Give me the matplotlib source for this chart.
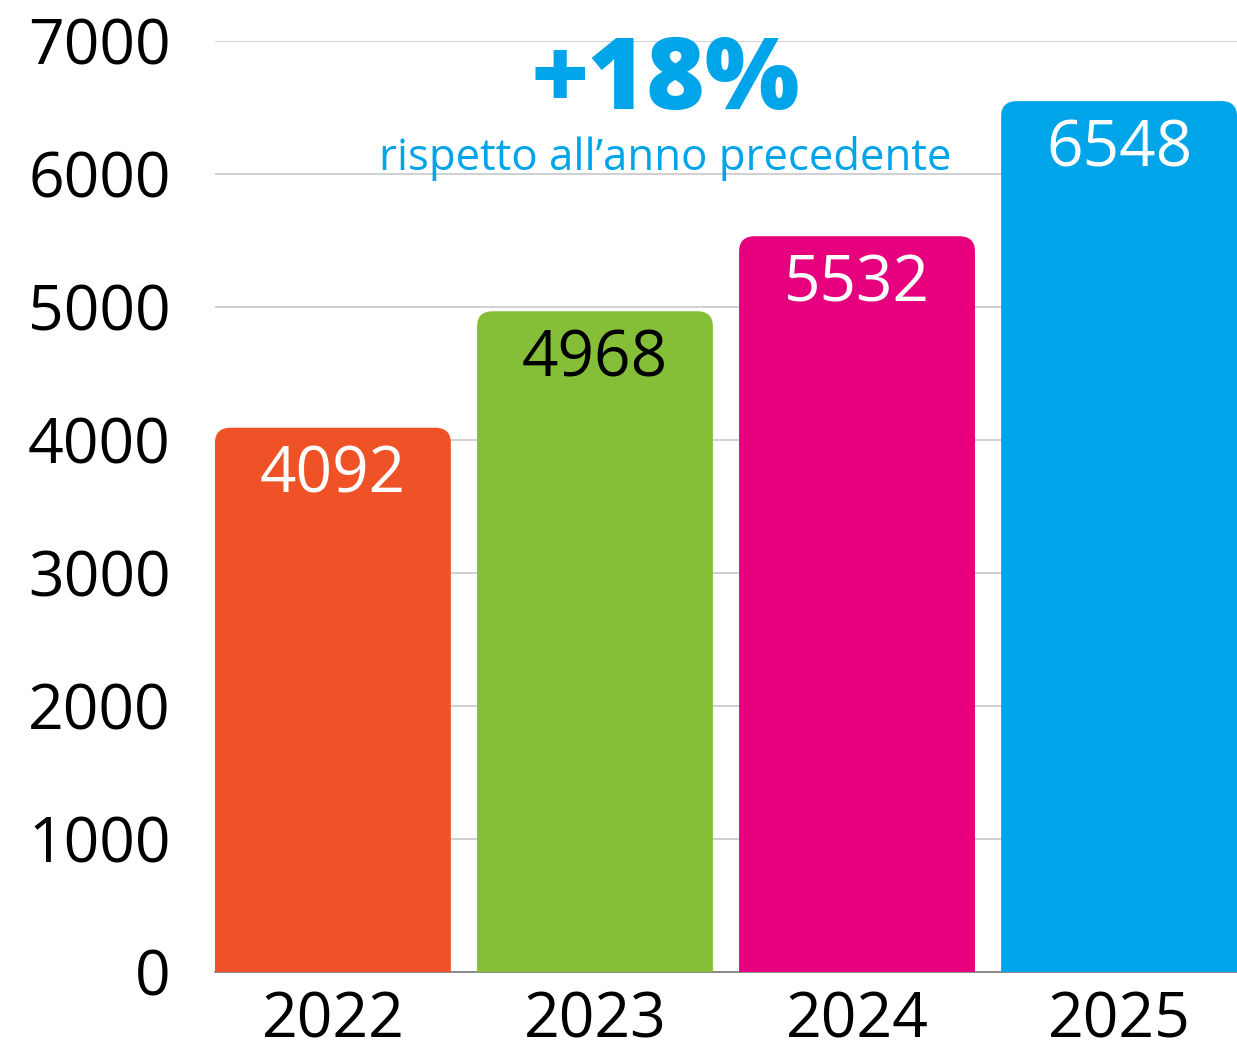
import matplotlib.pyplot as plt
from matplotlib.patches import FancyBboxPatch

years = ["2022", "2023", "2024", "2025"]
values = [4092, 4968, 5532, 6548]
colors = ["#F05228", "#84BF37", "#E6007E", "#00A4E9"]
label_colors = ["white", "black", "white", "white"]
yticks = [0, 1000, 2000, 3000, 4000, 5000, 6000, 7000]

plt.rcParams["font.family"] = ["Open Sans", "DejaVu Sans"]

fig = plt.figure(figsize=(12.37, 10.51), dpi=100)
ax = fig.add_axes([0.1738, 0.0752, 0.8262, 0.8858])

width = 0.9
bars = ax.bar(range(len(years)), values, width=width, color="none")

# rounded top corners (bottom corners are hidden below y=0)
for bar, c in zip(bars, colors):
    x = bar.get_x()
    h = bar.get_height()
    patch = FancyBboxPatch((x, -400), width, h + 400,
                           boxstyle="round,pad=0,rounding_size=0.06",
                           mutation_aspect=1900, facecolor=c,
                           edgecolor="none", zorder=2)
    ax.add_patch(patch)

for i, (v, lc) in enumerate(zip(values, label_colors)):
    ax.text(i, v - 120, str(v), ha="center", va="top", fontsize=46,
            color=lc, zorder=3)

ax.set_xlim(-0.45, 3.45)
ax.set_ylim(0, 7000)
ax.set_yticks(yticks)
ax.set_xticks(range(len(years)))
ax.set_xticklabels(years)
ax.tick_params(axis="both", length=0, labelsize=45, colors="black")
ax.tick_params(axis="y", pad=32)
ax.tick_params(axis="x", pad=13)
ax.yaxis.grid(True, color="#c8c8c8", linewidth=1.2, zorder=0)
ax.set_axisbelow(True)
for s in ["top", "right", "left"]:
    ax.spines[s].set_visible(False)
ax.spines["bottom"].set_color("#777777")
ax.spines["bottom"].set_linewidth(1.2)
ax.spines["bottom"].set_zorder(1)

ax.text(1.27, 7060, "+18%", ha="center", va="top", fontsize=72,
        fontweight="heavy", color="#00A4E9", zorder=4)
ax.text(1.27, 6030, "rispetto all\u2019anno precedente", ha="center",
        va="baseline", fontsize=31.5, color="#00A4E9", zorder=4)

fig.savefig("out.png", dpi=100)
